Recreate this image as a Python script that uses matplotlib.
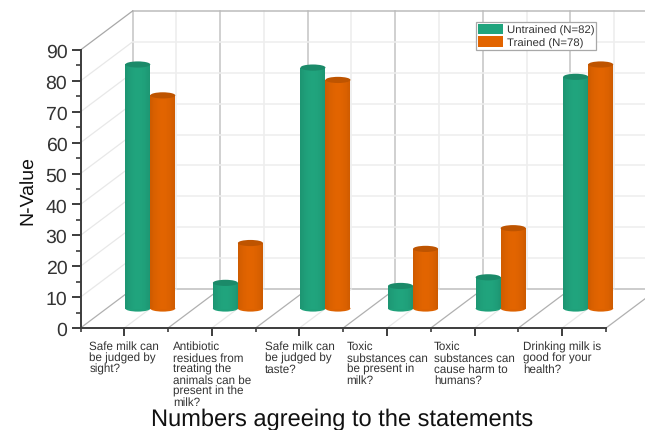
import matplotlib
matplotlib.use("Agg")
import matplotlib.pyplot as plt
import numpy as np
from matplotlib.colors import to_rgb
from matplotlib.patches import Ellipse, Patch

plt.rcParams["font.family"] = ["Liberation Sans", "DejaVu Sans"]
plt.rcParams["text.hinting"] = "none"

statements = [
    "Safe milk can\nbe judged by\nsight?",
    "Antibiotic\nresidues from\ntreating the\nanimals can be\npresent in the\nmilk?",
    "Safe milk can\nbe judged by\ntaste?",
    "Toxic\nsubstances can\nbe present in\nmilk?",
    "Toxic\nsubstances can\ncause harm to\nhumans?",
    "Drinking milk is\ngood for your\nhealth?",
]
untrained = [79, 8.3, 78, 7.3, 10.1, 75]
trained = [69, 21.2, 74, 19.3, 26, 79]
y_major = [0, 10, 20, 30, 40, 50, 60, 70, 80, 90]

GREEN = "#20a47d"
ORANGE = "#e26400"
TEXT = "#333333"
AXIS = "#3c3c3c"

# depth of the box, in data units
DX = 0.594
DY = 12.62
BAR_W = 0.2855
CAP_H = 2.0


def shade(color, k):
    return tuple(np.clip(np.array(to_rgb(color)) * k, 0, 1))


def cylinder(ax, x, value, color):
    # bar centred half way along the depth of the floor
    cx = x + DX / 2
    base = DY / 2
    ax.add_patch(Ellipse((cx, base), BAR_W, CAP_H, color=shade(color, 0.98), lw=0, zorder=3,
                         clip_on=False))
    t = np.linspace(-1, 1, 33)
    mid = (t[:-1] + t[1:]) / 2
    k = 0.9 + 0.1 * np.cos(mid * np.pi / 2) ** 0.8
    strip = np.array([[shade(color, v) for v in k]])
    edges = cx + t * BAR_W / 2
    ax.pcolormesh(edges, [base, base + value], strip, zorder=3, clip_on=False)
    ax.add_patch(Ellipse((cx, base + value), BAR_W, CAP_H, color=shade(color, 0.84), lw=0, zorder=3,
                         clip_on=False))


fig = plt.figure(figsize=(6.45, 4.31), dpi=100)
ax = fig.add_axes([80.5 / 645, (431 - 329) / 431, 525.5 / 645, 278 / 431])
ax.patch.set_visible(False)

xs = np.arange(1, len(statements) + 1)
edges = np.arange(0.5, len(statements) + 1)
x_end = edges[-1] + DX
y_end = 90 + DY

# back wall
for e in edges:
    ax.plot([e + DX, e + DX], [DY, y_end], color="#c8c8c8", lw=1.2, zorder=1, clip_on=False)
for x in xs:
    ax.plot([x + DX, x + DX], [DY, y_end], color="#ececec", lw=1.1, zorder=1, clip_on=False)
for v in y_major[1:]:
    c = "#bcbcbc" if v == 90 else "#eeeeee"
    ax.plot([0.5 + DX, x_end], [v + DY, v + DY], color=c, lw=1.1, zorder=1, clip_on=False)
ax.plot([0.5 + DX, x_end], [DY, DY], color="#c8c8c8", lw=1.3, zorder=1, clip_on=False)

# side wall and floor
for v in y_major[1:]:
    c = "#a8a8a8" if v == 90 else "#e8e8e8"
    ax.plot([0.5, 0.5 + DX], [v, v + DY], color=c, lw=0.9, zorder=1, clip_on=False)
for e in edges:
    ax.plot([e, e + DX], [0, DY], color="#b0b0b0", lw=0.9, zorder=1, clip_on=False)
for x in xs:
    ax.plot([x, x + DX], [0, DY], color="#e8e8e8", lw=0.9, zorder=1, clip_on=False)

for x, a, b in zip(xs, untrained, trained):
    cylinder(ax, x - BAR_W / 2, a, GREEN)
    cylinder(ax, x + BAR_W / 2, b, ORANGE)

ax.set_xlim(0.5, 6.5)
ax.set_ylim(0, 90)
for s in ["top", "right"]:
    ax.spines[s].set_visible(False)
for s in ["left", "bottom"]:
    ax.spines[s].set_color(AXIS)
    ax.spines[s].set_linewidth(1.4)

ax.set_yticks(y_major)
ax.set_yticks(np.arange(5, 90, 10), minor=True)
ax.set_xticks(xs)
ax.set_xticks(edges, minor=True)
ax.set_xticklabels(statements, fontsize=8.4, color=TEXT, linespacing=1.0, multialignment="left")
ax.tick_params(axis="y", which="major", length=6.5, width=1.4, color=AXIS, labelsize=14,
               labelcolor=TEXT, pad=3)
ax.tick_params(axis="y", which="minor", length=3.5, width=1.2, color=AXIS)
ax.tick_params(axis="x", which="major", length=5.5, width=1.4, color=AXIS, pad=3.5)
ax.tick_params(axis="x", which="minor", length=3, width=1.2, color=AXIS)

fig.text(27 / 645, 1 - 191 / 431, "N-Value", rotation=90, fontsize=14, color="#111111",
         ha="center", va="center")
fig.text(342.5 / 645, 1 - 426 / 431, "Numbers agreeing to the statements", fontsize=17,
         color="#111111", ha="center", va="baseline")

handles = [Patch(facecolor=GREEN, edgecolor="none", label="Untrained (N=82)"),
           Patch(facecolor=ORANGE, edgecolor="none", label="Trained (N=78)")]
leg = fig.legend(handles=handles, loc="upper left", bbox_to_anchor=(476 / 645, 1 - 23 / 431),
                 fontsize=8.2, frameon=True, fancybox=False, edgecolor="#a8a8a8", framealpha=1,
                 borderpad=0.18, borderaxespad=0, handlelength=2.2, handleheight=1.0,
                 handletextpad=0.3, labelspacing=0.1, labelcolor=TEXT)
leg.get_frame().set_linewidth(0.9)
leg.set_zorder(5)

fig.savefig("out.png", dpi=100)
